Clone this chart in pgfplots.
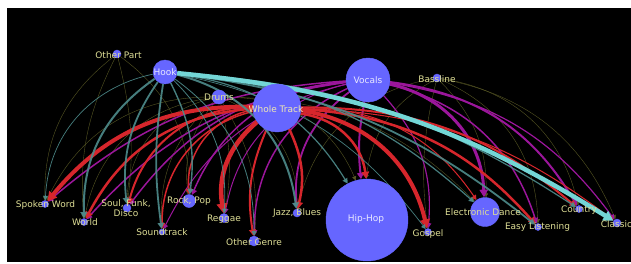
\documentclass[border=0pt]{standalone}
\usepackage{pgfplots}
\pgfplotsset{compat=1.18}
\usepackage{pgfplotstable}
\usetikzlibrary{arrows.meta,calc}
\usepackage{fontspec}
\setmainfont{DejaVu Sans}

\definecolor{nodeblue}{RGB}{102,102,255}
\definecolor{lab}{RGB}{222,222,150}
\definecolor{labw}{RGB}{232,232,255}
\definecolor{labc}{RGB}{240,232,180}
\definecolor{hookc}{RGB}{78,140,140}
\definecolor{cyanc}{RGB}{115,214,214}
\definecolor{redc}{RGB}{214,38,44}
\definecolor{purc}{RGB}{155,22,155}
\definecolor{oliv}{RGB}{85,85,35}

% node table: x y radius (pixel units, y downwards)
\pgfplotstableread{
x y r
117 54 4
165 72 12
219 97 7
277 108 24
368 80 22
437 78 4
45 204 3.5
84 222 3.5
127 208 4
162 232 3
189 201 6.5
224 218 4.5
254 241 5
297 213 4
367 220 41
428 232 3.5
485 212 14.5
538 227 3.5
579 209 3.5
617 223 4
}\nodes

\newcommand\V[4]{\node[circle,inner sep=0pt,minimum size=#4pt,draw=none] (#1) at (axis cs:#2,#3) {};}
\newcommand\E[3]{\draw[#3] let \p1=(#1.center),\p2=(#2.center),
  \n1={(((\x2-\x1)>=0) ? 1 : -1)*asin(min(0.95,min(32,6+0.22*abs(\x2-\x1))/(0.294*veclen(\x2-\x1,\y2-\y1))))}
  in (#1) to[bend left=\n1] (#2);}

\tikzset{
  ar/.style={-{Triangle[length=3.5pt 1.4,width=3.5pt 1.6]}},
  tl/.style={ar,color=hookc,opacity=0.9,line width=#1},
  cy/.style={ar,color=cyanc,line width=#1},
  rd/.style={ar,color=redc,line width=#1},
  pu/.style={ar,color=purc,line width=#1},
  ol/.style={ar,color=oliv,line width=0.4pt},
  lb/.style={font=\fontsize{9}{10}\selectfont,text=lab,inner sep=0pt,align=center},
}

\begin{document}
\begin{tikzpicture}
\begin{axis}[
  set layers,
  scale only axis, width=624pt, height=254pt,
  xmin=7, xmax=631, ymin=8, ymax=262, y dir=reverse,
  axis line style={draw=none}, xtick=\empty, ytick=\empty,
  axis background/.style={fill=black},
  clip=true,
]
% invisible anchors for the edges (same positions as the table)
\V{OP}{117}{54}{8}
\V{HK}{165}{72}{24}
\V{DR}{219}{97}{14}
\V{WT}{277}{108}{48}
\V{VO}{368}{80}{44}
\V{BA}{437}{78}{8}
\V{SW}{45}{204}{7}
\V{WO}{84}{222}{7}
\V{SF}{127}{208}{8}
\V{ST}{162}{232}{6}
\V{RP}{189}{201}{13}
\V{RG}{224}{218}{9}
\V{OG}{254}{241}{10}
\V{JB}{297}{213}{8}
\V{HH}{367}{220}{82}
\V{GO}{428}{232}{7}
\V{ED}{485}{212}{29}
\V{EL}{538}{227}{7}
\V{CO}{579}{209}{7}
\V{CL}{617}{223}{8}

% thin edges
\E{OP}{SW}{ol}\E{OP}{WO}{ol}\E{OP}{SF}{ol}\E{OP}{RP}{ol}
\E{DR}{SW}{ol}\E{DR}{WO}{ol}\E{DR}{SF}{ol}\E{DR}{ST}{ol}\E{DR}{RP}{ol}
\E{DR}{RG}{ol}\E{DR}{OG}{ol}\E{DR}{JB}{ol}\E{DR}{HH}{ol}\E{DR}{ED}{ol}
\E{BA}{JB}{ol}\E{BA}{HH}{ol}\E{BA}{GO}{ol}\E{BA}{ED}{ol}\E{BA}{EL}{ol}
\E{BA}{CO}{ol}\E{BA}{CL}{ol}

% vocals
\E{VO}{SW}{pu=1.5pt}\E{VO}{WO}{pu=1.5pt}\E{VO}{SF}{pu=1.5pt}
\E{VO}{ST}{pu=1pt}\E{VO}{RP}{pu=1.5pt}\E{VO}{RG}{pu=1pt}
\E{VO}{OG}{pu=1.5pt}\E{VO}{JB}{pu=1.8pt}\E{VO}{HH}{pu=2pt}
\E{VO}{GO}{pu=1.2pt}\E{VO}{ED}{pu=3pt}\E{VO}{EL}{pu=1.5pt}
\E{VO}{CO}{pu=2pt}\E{VO}{CL}{pu=1.2pt}

% whole track
\E{WT}{SW}{rd=4pt}\E{WT}{WO}{rd=2.5pt}\E{WT}{SF}{rd=2pt}
\E{WT}{ST}{rd=1.5pt}\E{WT}{RP}{rd=1.5pt}\E{WT}{RG}{rd=4.5pt}
\E{WT}{OG}{rd=2pt}\E{WT}{JB}{rd=2.5pt}\E{WT}{HH}{rd=2.5pt}
\E{WT}{GO}{rd=4pt}\E{WT}{ED}{rd=1pt}\E{WT}{EL}{rd=2.5pt}
\E{WT}{CO}{rd=2pt}\E{WT}{CL}{rd=1pt}

% hook
\E{HK}{SW}{tl=0.7pt}\E{HK}{WO}{tl=2pt}\E{HK}{SF}{tl=1.8pt}
\E{HK}{ST}{tl=1.8pt}\E{HK}{RP}{tl=1.4pt}\E{HK}{RG}{tl=0.8pt}
\E{HK}{OG}{tl=0.8pt}\E{HK}{JB}{tl=2pt}\E{HK}{HH}{tl=1.2pt}
\E{HK}{GO}{tl=0.7pt}\E{HK}{ED}{tl=1.2pt}\E{HK}{EL}{tl=1.8pt}
\E{HK}{CO}{tl=1.2pt}
\E{HK}{CL}{cy=4.5pt}

% nodes
\addplot[scatter, only marks, mark=*,
  scatter/use mapped color={draw=nodeblue,fill=nodeblue},
  visualization depends on={\thisrow{r} \as \perpointmarksize},
  scatter/@pre marker code/.append style={/tikz/mark size=\perpointmarksize}]
  table[x=x,y=y]{\nodes};

% labels
\begin{pgfonlayer}{axis foreground}
\node[lb] at (axis cs:118.5,55) {Other Part};
\node[lb,text=labw] at (axis cs:165,72) {Hook};
\node[lb] at (axis cs:219,97) {Drums};
\node[lb,text=labc] at (axis cs:276,109) {Whole Track};
\node[lb,text=labw] at (axis cs:368,80) {Vocals};
\node[lb] at (axis cs:437,79) {Bassline};
\node[lb] at (axis cs:45.5,205.5) {Spoken Word};
\node[lb] at (axis cs:85,222.5) {World};
\node[lb] at (axis cs:126,208.3) {Soul, Funk,\\Disco};
\node[lb] at (axis cs:189,201.5) {Rock, Pop};
\node[lb] at (axis cs:162,232.3) {Soundtrack};
\node[lb] at (axis cs:224,219.5) {Reggae};
\node[lb] at (axis cs:254,242.3) {Other Genre};
\node[lb] at (axis cs:297,213) {Jazz, Blues};
\node[lb,text=labw] at (axis cs:366,219) {Hip-Hop};
\node[lb] at (axis cs:428,234) {Gospel};
\node[lb] at (axis cs:483,212.3) {Electronic Dance};
\node[lb] at (axis cs:537.5,227.3) {Easy Listening};
\node[lb] at (axis cs:579,210) {Country};
\node[lb] at (axis cs:620.5,224.3) {Classical};
\end{pgfonlayer}
\end{axis}
\pgfresetboundingbox
\path[use as bounding box] ([xshift=-7pt,yshift=-1pt]current axis.south west) rectangle ([yshift=8pt]current axis.north east);
\end{tikzpicture}
\end{document}
